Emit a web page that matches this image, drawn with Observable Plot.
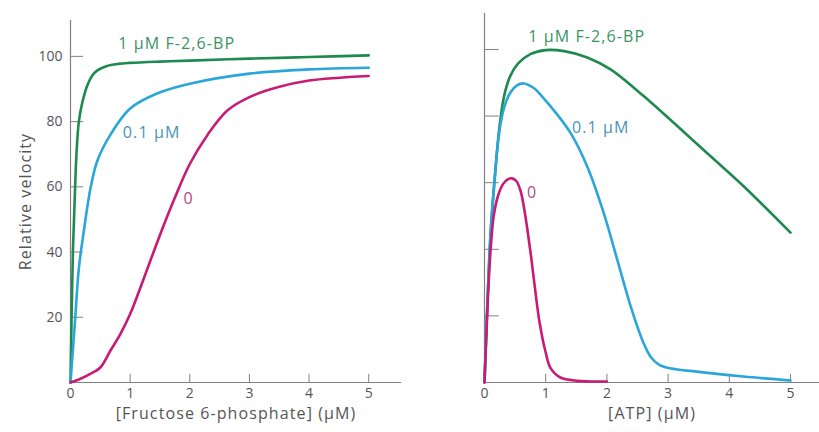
<!DOCTYPE html>
<html><head><meta charset="utf-8">
<script src="https://cdn.jsdelivr.net/npm/d3@7"></script>
<script src="https://cdn.jsdelivr.net/npm/@observablehq/plot@0.6"></script>
<style>
body{margin:0;background:#fff;}
#wrap{display:flex;width:819px;height:432px;overflow:hidden;}
#wrap svg g[aria-label="text"] text{letter-spacing:1.1px;}
</style></head><body><div id="wrap"></div>
<script>
// ---- shared tick values ----
const xTickValues = [0, 1, 2, 3, 4, 5];
const yTickValues = [20, 40, 60, 80, 100];

// ---- left panel: [Fructose 6-phosphate] ----
const leftHighX = [0, 0.02, 0.04, 0.07, 0.1, 0.14, 0.2, 0.28, 0.36, 0.45, 0.6, 0.8, 1, 1.5, 2, 3, 4, 5];
const leftHighY = [0, 22, 40, 56, 70, 80, 86, 91, 94, 95.7, 97, 97.7, 98, 98.4, 98.7, 99.3, 99.8, 100.3];
const leftMidX = [0, 0.04, 0.08, 0.14, 0.22, 0.34, 0.45, 0.67, 1, 1.45, 2, 3, 4, 5];
const leftMidY = [0, 10, 20, 35, 46, 60, 68, 76, 84, 88.6, 91.6, 94.7, 96, 96.5];
const leftZeroX = [0, 0.15, 0.34, 0.5, 0.67, 0.84, 1, 1.17, 1.34, 1.51, 1.73, 2, 2.3, 2.63, 3, 3.47, 4, 5];
const leftZeroY = [0, 1, 2.7, 4.6, 9.8, 15, 21, 29, 37.4, 45.7, 55.8, 67, 76, 83.4, 87.5, 90.5, 92.6, 94];

// ---- right panel: [ATP] ----
const rightHighX = [0, 0.05, 0.1, 0.17, 0.24, 0.32, 0.42, 0.55, 0.75, 1.0, 1.3, 1.68, 2.06, 2.6, 3.15, 3.69, 4.23, 5];
const rightHighY = [0, 25, 45, 62, 76, 86, 92, 95.8, 98.6, 99.8, 99.5, 97.6, 94, 86, 77, 68, 59, 45];
const rightMidX = [0, 0.05, 0.1, 0.17, 0.24, 0.32, 0.42, 0.53, 0.64, 0.8, 0.96, 1.13, 1.41, 1.68, 1.95, 2.17, 2.39, 2.6, 2.72, 2.85, 3.03, 3.5, 4.23, 5];
const rightMidY = [0, 25, 45, 62, 75, 82.5, 87, 89.2, 89.8, 88.5, 85.5, 81.8, 74.8, 64.8, 50.8, 36.8, 22.8, 11.8, 7.6, 5.4, 4.3, 3.2, 1.8, 0.6];
const rightZeroX = [0, 0.03, 0.06, 0.1, 0.15, 0.22, 0.3, 0.38, 0.45, 0.52, 0.59, 0.65, 0.7, 0.76, 0.82, 0.9, 1.0, 1.08, 1.24, 1.52, 2.0];
const rightZeroY = [0, 14, 27, 40, 50, 56, 59.5, 61, 61.3, 60.5, 57.5, 52, 46, 38, 29, 18, 9, 4.3, 1.5, 0.5, 0.3];

// ---- labels ----
const seriesNames = ["1 μM F-2,6-BP", "0.1 μM", "0"];
const leftLabelX = [1.78, 1.36, 1.98];
const leftLabelY = [103.7, 76.4, 56.4];
const rightLabelX = [1.67, 1.9, 0.78];
const rightLabelY = [103.8, 76.4, 56.9];
const xTitles = ["[Fructose 6-phosphate] (μM)", "[ATP] (μM)"];
const yTitle = "Relative velocity";

// ---- styles ----
const lineColors = ["#1f8a4f", "#2aa6d8", "#c81b76"];
const labelColors = ["#3a9462", "#4a92b8", "#b24a7e"];
const axisColor = "#808080";
const textColor = "#555";
const font = "'Open Sans', 'Noto Sans', sans-serif";

function toRows(xs, ys) { return xs.map((x, i) => ({x, y: ys[i]})); }

function panel(o) {
  const marks = [
    Plot.ruleY([0], {x1: 0, x2: o.xMax, stroke: axisColor, strokeWidth: 1.2}),
    Plot.ruleX([0], {y1: 0, y2: o.yMax, stroke: axisColor, strokeWidth: 1.2}),
    Plot.ruleX(xTickValues.slice(1), {y1: 0, y2: 2.5, stroke: axisColor, strokeWidth: 1}),
    Plot.ruleY(yTickValues, {x1: 0, x2: o.yTickLen, stroke: axisColor, strokeWidth: 1}),
    Plot.axisX(xTickValues, {tickSize: 0, tickPadding: 6, label: null, fontSize: 14, color: textColor}),
    Plot.text([o.xTitle], {frameAnchor: "bottom", dy: 36, fontSize: 16, fill: textColor})
  ];
  if (o.showY) {
    marks.push(Plot.axisY(yTickValues, {tickSize: 0, tickPadding: 8, label: null, fontSize: 14, color: textColor}));
    marks.push(Plot.text([yTitle], {frameAnchor: "left", textAnchor: "middle", dx: -45, rotate: -90, fontSize: 16, fill: textColor}));
  }
  o.series.forEach((s, i) => {
    marks.push(Plot.line(s, {x: "x", y: "y", stroke: lineColors[i], strokeWidth: 2.6, curve: "catmull-rom"}));
  });
  seriesNames.forEach((name, i) => {
    marks.push(Plot.text([{x: o.labelX[i], y: o.labelY[i], t: name}], {x: "x", y: "y", text: "t", fill: labelColors[i], fontSize: 16}));
  });
  return Plot.plot({
    width: o.width, height: 432,
    marginLeft: o.marginLeft, marginRight: o.marginRight, marginTop: o.marginTop, marginBottom: 50,
    x: {domain: [0, o.xMax]},
    y: {domain: [0, o.yMax], axis: o.showY ? undefined : null},
    style: {fontFamily: font, background: "white", overflow: "visible"},
    marks
  });
}

const wrap = document.getElementById("wrap");
wrap.append(panel({
  width: 410, marginLeft: 70, marginRight: 9, marginTop: 20,
  xMax: 5.55, yMax: 111, yTickLen: 0.22, showY: true,
  xTitle: xTitles[0],
  series: [toRows(leftHighX, leftHighY), toRows(leftMidX, leftMidY), toRows(leftZeroX, leftZeroY)],
  labelX: leftLabelX, labelY: leftLabelY
}));
wrap.append(panel({
  width: 409, marginLeft: 74, marginRight: 0, marginTop: 13,
  xMax: 5.474, yMax: 110.8, yTickLen: 0.24, showY: false,
  xTitle: xTitles[1],
  series: [toRows(rightHighX, rightHighY), toRows(rightMidX, rightMidY), toRows(rightZeroX, rightZeroY)],
  labelX: rightLabelX, labelY: rightLabelY
}));
</script>
</body></html>
